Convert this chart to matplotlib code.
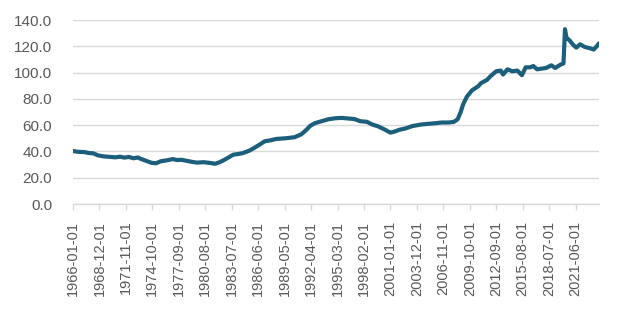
import matplotlib
matplotlib.use("Agg")
import matplotlib.pyplot as plt

# ---- data ----
dates = [
    "1966-01", "1966-08", "1967-04", "1967-10", "1968-04", "1968-10", "1969-06",
    "1970-03", "1970-09", "1971-03", "1971-09", "1972-03", "1972-09", "1973-03",
    "1973-06", "1974-01", "1974-09", "1975-03", "1975-09", "1976-06", "1977-01",
    "1977-06", "1978-01", "1978-06", "1979-03", "1979-09", "1980-06", "1981-03",
    "1981-09", "1982-03", "1982-09", "1983-03", "1983-09", "1984-03", "1984-09",
    "1985-06", "1985-12", "1986-06", "1987-03", "1987-09", "1988-06", "1989-06",
    "1990-06", "1991-03", "1991-09", "1992-03", "1992-09", "1993-06", "1994-03",
    "1995-01", "1995-09", "1996-06", "1997-01", "1997-09", "1998-06", "1999-01",
    "1999-09", "2000-06", "2001-01", "2001-06", "2002-01", "2002-09", "2003-06",
    "2004-06", "2005-03", "2006-01", "2006-09", "2007-06", "2008-01", "2008-06",
    "2008-10", "2009-01", "2009-06", "2010-01", "2010-09", "2011-01", "2011-09",
    "2012-01", "2012-09", "2013-03", "2013-06", "2013-12", "2014-06", "2015-01",
    "2015-07", "2015-12", "2016-06", "2016-10", "2017-03", "2017-09", "2018-03",
    "2018-10", "2019-03", "2019-10", "2020-02", "2020-04", "2020-06", "2020-10",
    "2021-03", "2021-07", "2021-12", "2022-06", "2023-01", "2023-06", "2023-10",
    "2024-01",
]
values = [
    40.3, 39.7, 39.5, 38.8, 38.5, 37.0, 36.2,
    35.8, 35.5, 36.0, 35.3, 35.8, 34.8, 35.4,
    34.5, 33.0, 31.3, 31.0, 32.5, 33.3, 34.2,
    33.5, 33.6, 33.0, 32.0, 31.5, 31.8, 31.2,
    30.6, 31.8, 33.5, 35.5, 37.5, 38.0, 38.6,
    40.5, 42.4, 44.5, 47.8, 48.3, 49.5, 50.0,
    50.8, 53.0, 56.0, 59.5, 61.5, 63.0, 64.5,
    65.3, 65.5, 65.0, 64.7, 63.0, 62.5, 60.5,
    59.0, 56.5, 54.3, 55.0, 56.5, 57.5, 59.3,
    60.5, 61.0, 61.5, 62.0, 62.0, 62.5, 64.5,
    70.0, 75.5, 81.5, 86.5, 89.5, 92.0, 94.5,
    97.0, 101.0, 101.5, 98.5, 102.5, 101.0, 101.5,
    98.0, 104.0, 104.0, 105.0, 102.5, 103.0, 103.5,
    105.5, 103.5, 106.0, 107.0, 133.0, 126.5, 124.5,
    121.0, 119.0, 121.5, 119.5, 118.5, 117.5, 120.0,
    122.3,
]
tick_labels = [
    "1966-01-01", "1968-12-01", "1971-11-01", "1974-10-01", "1977-09-01",
    "1980-08-01", "1983-07-01", "1986-06-01", "1989-05-01", "1992-04-01",
    "1995-03-01", "1998-02-01", "2001-01-01", "2003-12-01", "2006-11-01",
    "2009-10-01", "2012-09-01", "2015-08-01", "2018-07-01", "2021-06-01",
]
y_ticks = [0, 20, 40, 60, 80, 100, 120, 140]


def month_index(s):
    y, m = int(s[0:4]), int(s[5:7])
    return (y - 1966) * 12 + (m - 1)


x = [month_index(d) for d in dates]
tick_pos = [month_index(t) for t in tick_labels]

plt.rcParams["font.family"] = ["Liberation Sans", "DejaVu Sans"]

fig = plt.figure(figsize=(6.4, 3.09), dpi=100)
ax = fig.add_axes([73 / 640, 1 - 204 / 309, (599 - 73) / 640, 184 / 309])

ax.plot(x, values, color="#1c5f7c", lw=3.0, solid_joinstyle="round",
        solid_capstyle="round", zorder=3)

ax.set_xlim(0, month_index("2024-01"))
ax.set_ylim(0, 140)
ax.set_yticks(y_ticks)
ax.set_yticklabels([f"{v:.1f}" for v in y_ticks])
ax.set_xticks(tick_pos)
ax.set_xticklabels(tick_labels, rotation=90)

ax.grid(axis="y", color="#d9d9d9", lw=1.0, zorder=0)
ax.set_axisbelow(True)
for side in ("top", "right", "left"):
    ax.spines[side].set_visible(False)
ax.spines["bottom"].set_color("#d9d9d9")
ax.spines["bottom"].set_linewidth(1.0)

ax.tick_params(axis="y", length=0, pad=15, labelsize=11, labelcolor="#595959")
ax.tick_params(axis="x", length=4, width=1.0, color="#d9d9d9", pad=8,
               labelsize=10.5, labelcolor="#595959")

fig.savefig("out.png", dpi=100, facecolor="white")
